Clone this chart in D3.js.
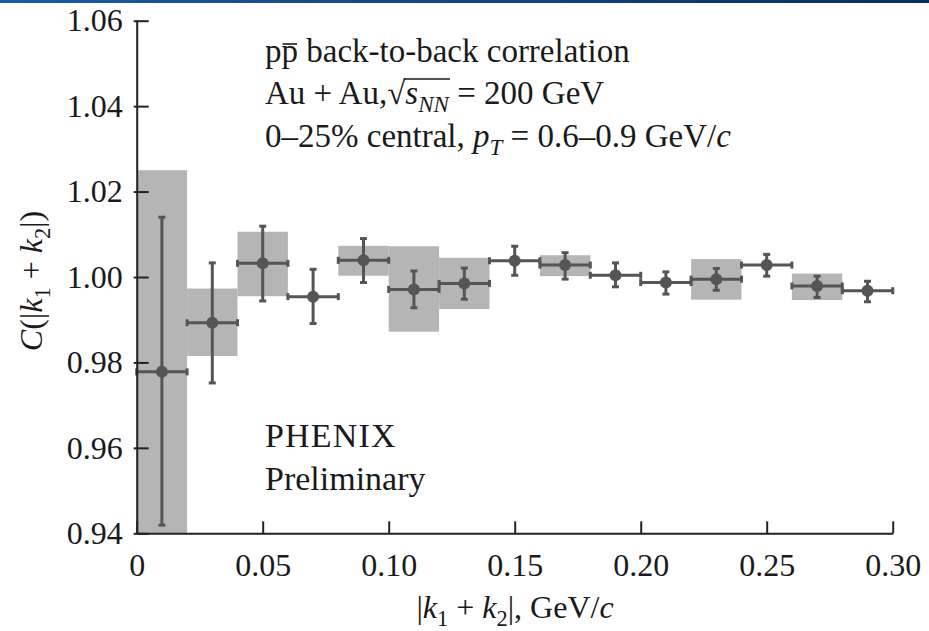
<!DOCTYPE html>
<html>
<head>
<meta charset="utf-8">
<script src="https://cdn.jsdelivr.net/npm/d3@7"></script>
<style>
  html, body { margin: 0; padding: 0; background: #fff; }
  svg { display: block; }
</style>
</head>
<body>
<svg id="chart" width="929" height="631"></svg>
<script>
// ---- data ----
const binCenters = [0.01, 0.03, 0.05, 0.07, 0.09, 0.11, 0.13, 0.15, 0.17, 0.19, 0.21, 0.23, 0.25, 0.27, 0.29];
const binHalfWidth = [0.01, 0.01, 0.01, 0.01, 0.01, 0.01, 0.01, 0.01, 0.01, 0.01, 0.01, 0.01, 0.01, 0.01, 0.01];
const values = [0.9778, 0.9893, 1.0032, 0.9954, 1.0039, 0.9971, 0.9985, 1.0038, 1.0028, 1.0004, 0.9987, 0.9995, 1.0028, 0.9979, 0.9968];
const statHigh = [1.0140, 1.0033, 1.0119, 1.0018, 1.0090, 1.0014, 1.0021, 1.0072, 1.0057, 1.0033, 1.0012, 1.0020, 1.0053, 1.0002, 0.9990];
const statLow = [0.9419, 0.9752, 0.9944, 0.9891, 0.9987, 0.9928, 0.9948, 1.0004, 0.9995, 0.9977, 0.9960, 0.9969, 1.0002, 0.9952, 0.9942];
const sysHigh = [1.0250, 0.9973, 1.0106, null, 1.0073, 1.0072, 1.0045, null, 1.0051, null, null, 1.0042, null, 1.0008, null];
const sysLow = [0.9400, 0.9815, 0.9955, null, 1.0003, 0.9872, 0.9925, null, 1.0002, null, null, 0.9947, null, 0.9946, null];
const xTicks = [0, 0.05, 0.10, 0.15, 0.20, 0.25, 0.30];
const xTickLabels = ["0", "0.05", "0.10", "0.15", "0.20", "0.25", "0.30"];
const yTicks = [0.94, 0.96, 0.98, 1.00, 1.02, 1.04, 1.06];
const yTickLabels = ["0.94", "0.96", "0.98", "1.00", "1.02", "1.04", "1.06"];

const points = binCenters.map((x, i) => ({
  x, hw: binHalfWidth[i], y: values[i], hi: statHigh[i], lo: statLow[i],
  sHi: sysHigh[i], sLo: sysLow[i]
}));

const FONT = "'Liberation Serif', 'Times New Roman', serif";
const svg = d3.select("#chart").attr("font-family", FONT);
const FS = 32;
const markColor = "#555555";
const boxColor = "#b5b5b5";
const axisColor = "#222222";
const textColor = "#1a1a1a";

// top blue strip
const defs = svg.append("defs");
const grad = defs.append("linearGradient").attr("id", "topbar");
grad.append("stop").attr("offset", "0%").attr("stop-color", "#1d5aa3");
grad.append("stop").attr("offset", "100%").attr("stop-color", "#0b2f5c");
svg.append("rect").attr("x", 0).attr("y", 0).attr("width", 929).attr("height", 3).attr("fill", "url(#topbar)");

const x = d3.scaleLinear().domain([0, 0.30]).range([136.7, 892.7]);
const y = d3.scaleLinear().domain([0.94, 1.06]).range([533.3, 20.7]);

// systematic boxes
svg.append("g").selectAll("rect")
  .data(points.filter(d => d.sHi !== null))
  .join("rect")
  .attr("x", d => x(d.x - d.hw))
  .attr("width", d => x(d.x + d.hw) - x(d.x - d.hw))
  .attr("y", d => y(d.sHi))
  .attr("height", d => y(d.sLo) - y(d.sHi))
  .attr("fill", boxColor);

// error bars
const eb = svg.append("g").attr("stroke", markColor).attr("stroke-width", 3).attr("fill", "none");
const cap = 3.5;
points.forEach(d => {
  const cx = x(d.x), cy = y(d.y);
  eb.append("line").attr("x1", cx).attr("x2", cx).attr("y1", y(d.hi)).attr("y2", y(d.lo));
  eb.append("line").attr("x1", cx - cap).attr("x2", cx + cap).attr("y1", y(d.hi)).attr("y2", y(d.hi));
  eb.append("line").attr("x1", cx - cap).attr("x2", cx + cap).attr("y1", y(d.lo)).attr("y2", y(d.lo));
  const xl = x(d.x - d.hw), xr = x(d.x + d.hw);
  eb.append("line").attr("x1", xl).attr("x2", xr).attr("y1", cy).attr("y2", cy);
  eb.append("line").attr("x1", xl).attr("x2", xl).attr("y1", cy - cap).attr("y2", cy + cap);
  eb.append("line").attr("x1", xr).attr("x2", xr).attr("y1", cy - cap).attr("y2", cy + cap);
});

// markers
svg.append("g").selectAll("circle")
  .data(points)
  .join("circle")
  .attr("cx", d => x(d.x))
  .attr("cy", d => y(d.y))
  .attr("r", 6)
  .attr("fill", markColor);

// axes
const xAxis = d3.axisBottom(x).tickValues(xTicks)
  .tickFormat((d, i) => xTickLabels[i]).tickSizeInner(-12).tickSizeOuter(0).tickPadding(20);
const yAxis = d3.axisLeft(y).tickValues(yTicks)
  .tickFormat((d, i) => yTickLabels[i]).tickSizeInner(-12).tickSizeOuter(0).tickPadding(14);

const gx = svg.append("g").attr("transform", `translate(0,${y(0.94)})`).call(xAxis);
const gy = svg.append("g").attr("transform", `translate(${x(0)},0)`).call(yAxis);
[gx, gy].forEach(g => {
  g.attr("font-family", FONT).attr("font-size", FS);
  g.select(".domain").attr("stroke", axisColor).attr("stroke-width", 2);
  g.selectAll(".tick line").attr("stroke", axisColor).attr("stroke-width", 2);
  g.selectAll(".tick text").attr("font-size", FS).attr("font-family", FONT).attr("fill", textColor);
});
gy.selectAll(".tick line").attr("x1", -3);

function rich(sel, parts, fs) {
  sel.attr("font-family", FONT).attr("fill", textColor).attr("font-size", fs);
  parts.forEach(p => {
    const t = sel.append("tspan").text(p.t);
    if (p.i) t.attr("font-style", "italic");
    if (p.sub) { t.attr("font-size", fs * 0.7).attr("dy", fs * 0.25); }
    if (p.back) { t.attr("dy", -fs * 0.25); }
  });
}
function charIndex(parts, k) {
  let n = 0;
  for (let j = 0; j < k; j++) n += parts[j].t.length;
  return n;
}

const AFS = 33;
const ann = svg.append("g");
const deco = svg.append("g").attr("stroke", textColor).attr("stroke-width", 1.6);

const p1 = [{t: "p"}, {t: "p"}, {t: " back-to-back correlation"}];
const l1 = ann.append("text").attr("x", 265).attr("y", 62);
rich(l1, p1, AFS);
{
  const n = l1.node();
  const a = n.getStartPositionOfChar(1).x, b = n.getEndPositionOfChar(1).x;
  deco.append("line").attr("x1", a + 1).attr("x2", b - 1).attr("y1", 62 - 18).attr("y2", 62 - 18);
}

const p2 = [{t: "Au + Au,\u221A"}, {t: "s", i: true}, {t: "NN", i: true, sub: true}, {t: " = 200 GeV", back: true}];
const l2 = ann.append("text").attr("x", 265).attr("y", 104);
rich(l2, p2, AFS);
{
  const n = l2.node();
  const ri = charIndex(p2, 1) - 1;
  const a = n.getEndPositionOfChar(ri).x - 1.5;
  const b = n.getEndPositionOfChar(charIndex(p2, 3) - 1).x + 1;
  const top = 104 - 25;
  deco.append("line").attr("x1", a).attr("x2", b).attr("y1", top).attr("y2", top);
}

const l3 = ann.append("text").attr("x", 265).attr("y", 147);
rich(l3, [{t: "0\u201325% central, "}, {t: "p", i: true}, {t: "T", i: true, sub: true}, {t: " = 0.6\u20130.9 GeV/", back: true}, {t: "c", i: true}], AFS);

const ph = ann.append("text").attr("x", 265).attr("y", 447).attr("letter-spacing", 1.2);
rich(ph, [{t: "PHENIX"}], 34);
rich(ann.append("text").attr("x", 265).attr("y", 490), [{t: "Preliminary"}], 34);

const xt = svg.append("text").attr("x", 515).attr("y", 618).attr("text-anchor", "middle");
rich(xt, [{t: "|"}, {t: "k", i: true}, {t: "1", sub: true}, {t: " + ", back: true}, {t: "k", i: true}, {t: "2", sub: true}, {t: "|, GeV/", back: true}, {t: "c", i: true}], FS);

const yt = svg.append("text").attr("transform", "translate(42,281) rotate(-90)").attr("text-anchor", "middle");
rich(yt, [{t: "C", i: true}, {t: "(|"}, {t: "k", i: true}, {t: "1", sub: true}, {t: " + ", back: true}, {t: "k", i: true}, {t: "2", sub: true}, {t: "|)", back: true}], FS);
</script>
</body>
</html>
